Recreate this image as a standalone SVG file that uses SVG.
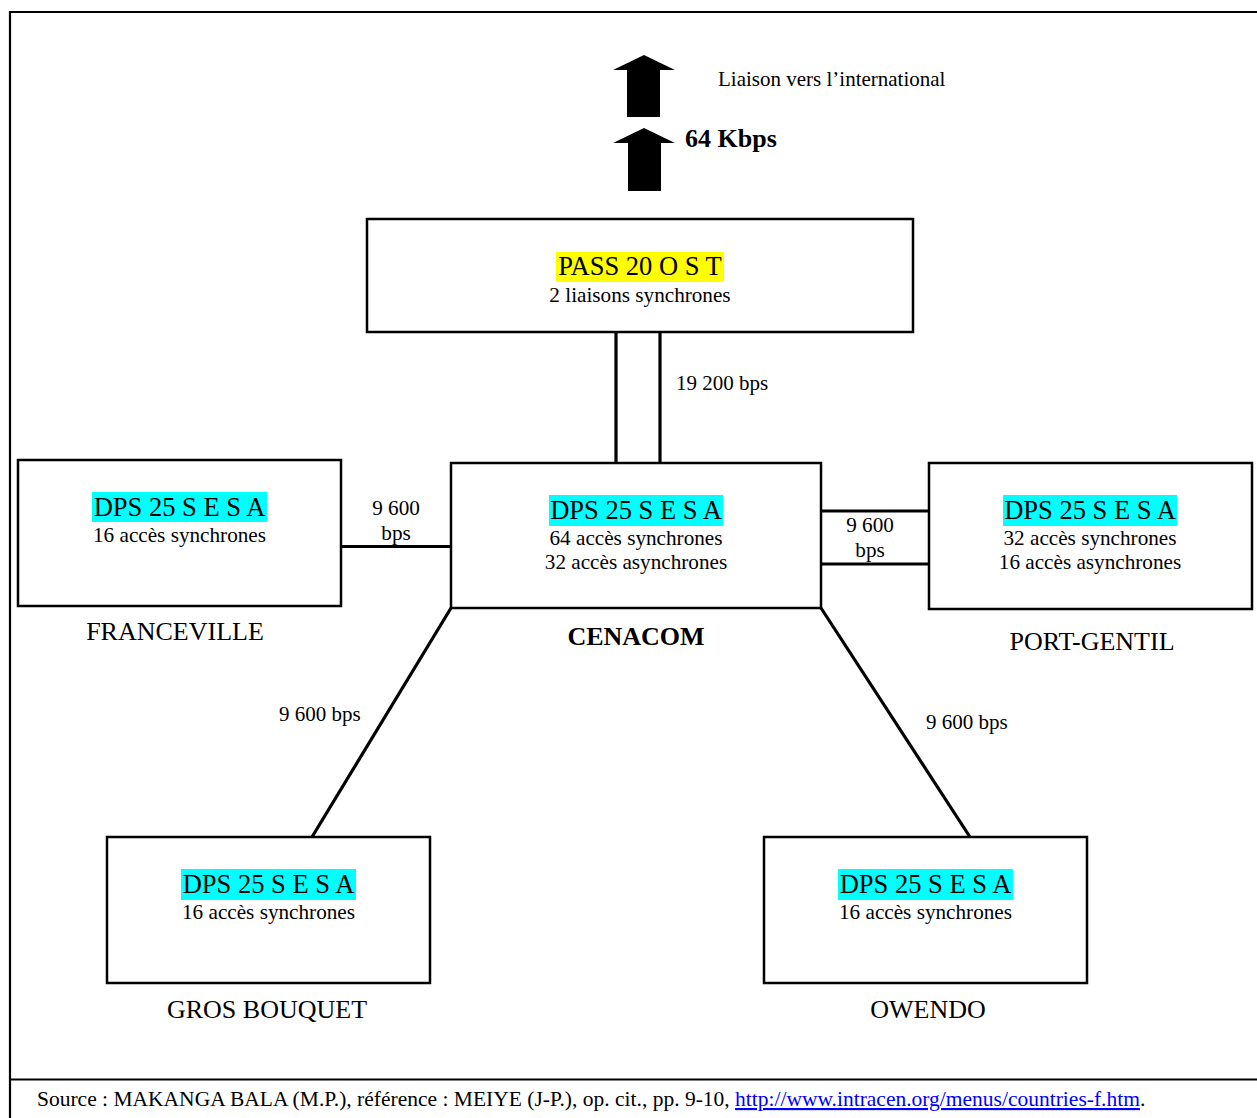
<svg xmlns="http://www.w3.org/2000/svg" width="1257" height="1118" viewBox="0 0 1257 1118">
<style>
text{font-family:"Liberation Serif","Times New Roman",serif;fill:#000}
.box{fill:#fff;stroke:#000;stroke-width:2.5}
.t{font-size:26.5px;text-anchor:middle}
.s{font-size:21.2px;text-anchor:middle}
.lbl{font-size:26px;text-anchor:middle}
.b{font-weight:bold}
.cy{fill:#00ffff}
.ye{fill:#ffff00}
.ln{stroke:#000;stroke-width:3.2;fill:none}
.frame{stroke:#000;stroke-width:2.2;fill:none}
</style>
<rect width="1257" height="1118" fill="#fff"/>
<g id="frame">
<path class="frame" d="M10 1118 V12 H1257"/>
<path class="frame" d="M10 1079.5 H1257"/>
</g>
<g id="connectors">
<line class="ln" x1="616" y1="332" x2="616" y2="463"/>
<line class="ln" x1="660" y1="332" x2="660" y2="463"/>
<line class="ln" x1="341" y1="546.5" x2="451" y2="546.5"/>
<line class="ln" x1="821" y1="511" x2="929" y2="511"/>
<line class="ln" x1="821" y1="564" x2="929" y2="564"/>
<line class="ln" x1="451" y1="608" x2="312" y2="837"/>
<line class="ln" x1="821" y1="608" x2="970" y2="837"/>
<text x="676" y="390" font-size="21">19 200 bps</text>
<text x="396" y="515" class="s">9 600</text>
<text x="396" y="540" class="s">bps</text>
<text x="870" y="532" class="s">9 600</text>
<text x="870" y="557" class="s">bps</text>
<text x="279" y="721" font-size="21">9 600 bps</text>
<text x="926" y="729" font-size="21">9 600 bps</text>
</g>
<g id="international">
<polygon points="644,55 675,70 660,70 660,117 627,117 627,70 613,70" fill="#000"/>
<polygon points="644,128 675,143 661,143 661,191 628,191 628,143 613,143" fill="#000"/>
<text x="718" y="86" font-size="21">Liaison vers l’international</text>
<text x="685" y="147" font-size="26" class="b">64 Kbps</text>
</g>
<g id="pass">
<rect class="box" x="367" y="219" width="546" height="113"/>
<rect class="ye" x="556" y="252" width="168" height="30"/>
<text class="t" x="640" y="275">PASS 20 O S T</text>
<text class="s" x="640" y="302">2 liaisons synchrones</text>
</g>
<g id="cenacom">
<rect class="box" x="451" y="463" width="370" height="145"/>
<rect class="cy" x="549" y="495" width="174" height="31"/>
<text class="t" x="636" y="519">DPS 25 S E S A</text>
<text class="s" x="636" y="545">64 accès synchrones</text>
<text class="s" x="636" y="569">32 accès asynchrones</text>
<text class="lbl b" x="636" y="645">CENACOM</text>
</g>
<g id="franceville">
<rect class="box" x="18" y="460" width="323" height="146"/>
<rect class="cy" x="92" y="492" width="175" height="30"/>
<text class="t" x="179.5" y="516">DPS 25 S E S A</text>
<text class="s" x="179.5" y="542">16 accès synchrones</text>
<text class="lbl" x="175" y="640">FRANCEVILLE</text>
</g>
<g id="portgentil">
<rect class="box" x="929" y="463" width="323" height="146"/>
<rect class="cy" x="1003" y="495" width="174" height="31"/>
<text class="t" x="1090" y="519">DPS 25 S E S A</text>
<text class="s" x="1090" y="545">32 accès synchrones</text>
<text class="s" x="1090" y="569">16 accès asynchrones</text>
<text class="lbl" x="1092" y="650">PORT-GENTIL</text>
</g>
<g id="grosbouquet">
<rect class="box" x="107" y="837" width="323" height="146"/>
<rect class="cy" x="181" y="869" width="175" height="31"/>
<text class="t" x="268.5" y="893">DPS 25 S E S A</text>
<text class="s" x="268.5" y="919">16 accès synchrones</text>
<text class="lbl" x="267" y="1018">GROS BOUQUET</text>
</g>
<g id="owendo">
<rect class="box" x="764" y="837" width="323" height="146"/>
<rect class="cy" x="838" y="869" width="175" height="31"/>
<text class="t" x="925.5" y="893">DPS 25 S E S A</text>
<text class="s" x="925.5" y="919">16 accès synchrones</text>
<text class="lbl" x="928" y="1018">OWENDO</text>
</g>
<g id="source">
<text x="37" y="1106" font-size="21.5">Source : MAKANGA BALA (M.P.), référence : MEIYE (J-P.), op. cit., pp. 9-10, <tspan fill="#0000ff" style="fill:#0000ff" text-decoration="underline">http://www.intracen.org/menus/countries-f.htm</tspan>.</text>
</g>
</svg>
